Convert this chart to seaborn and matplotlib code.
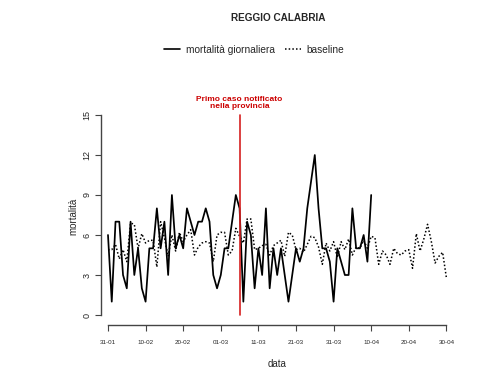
import numpy as np
import pandas as pd
import matplotlib
matplotlib.use("Agg")
import matplotlib.pyplot as plt
import matplotlib.dates as mdates
import seaborn as sns
from matplotlib.lines import Line2D

sns.set_theme(style="white")
plt.rcParams['font.family'] = ['Liberation Sans', 'DejaVu Sans']

title = "REGGIO CALABRIA"
start_date = "2020-01-31"
mortalita = [6, 1, 7, 7, 3, 2, 7, 3, 5, 2, 1, 5, 5, 8, 5, 7, 3, 9, 5, 6,
             5, 8, 7, 6, 7, 7, 8, 7, 3, 2, 3, 5, 5, 7, 9, 8, 1, 7, 6, 2,
             5, 3, 8, 2, 5, 3, 5, 3, 1, 3, 5, 4, 5, 8, 10, 12, 8, 5, 5, 4,
             1, 5, 4, 3, 3, 8, 5, 5, 6, 4, 9]
baseline = [4.9, 4.9, 5.3, 4.2, 4.9, 4.0, 6.9, 6.8, 5.0, 6.1, 5.4, 5.6, 5.6, 3.6, 7.0,
            5.8, 4.4, 6.0, 4.8, 6.2, 5.5, 6.0, 6.4, 4.5, 5.1, 5.4, 5.5, 5.4, 4.0, 6.0,
            6.2, 6.2, 4.5, 4.8, 6.5, 5.9, 5.4, 7.2, 7.2, 4.9, 5.0, 5.2, 5.3, 4.5, 5.2,
            5.4, 5.6, 4.4, 6.2, 6.0, 4.9, 5.0, 4.7, 5.3, 5.9, 5.8, 5.1, 3.8, 5.4, 4.8,
            5.5, 4.3, 5.5, 4.9, 5.7, 4.5, 5.1, 5.0, 5.6, 5.0, 5.9, 5.8, 3.8, 4.8, 4.5,
            3.8, 5.0, 4.6, 4.5, 4.8, 4.9, 3.5, 6.1, 4.8, 5.7, 6.8, 5.5, 3.9, 4.4, 4.7, 2.8]
primo_caso = "2020-03-06"
annotation = "Primo caso notificato\nnella provincia"
y_ticks = [0, 3, 6, 9, 12, 15]

dates_b = pd.date_range(start_date, periods=len(baseline), freq="D")
dates_m = dates_b[:len(mortalita)]
df_m = pd.DataFrame({"data": dates_m, "mortalita": mortalita})
df_b = pd.DataFrame({"data": dates_b, "baseline": baseline})

fig = plt.figure(figsize=(4.98, 3.77), dpi=100)
ax = fig.add_axes([101/498, (377-325)/377, (453-101)/498, (325-107)/377])

dot = (0, (1, 1.4))
sns.lineplot(data=df_m, x="data", y="mortalita", ax=ax, color="black", lw=1.25)
sns.lineplot(data=df_b, x="data", y="baseline", ax=ax, color="black", lw=1.1,
             linestyle=dot)

pc = pd.Timestamp(primo_caso)
ax.plot([pc, pc], [y_ticks[0], y_ticks[-1]], color="#d62020", lw=1.2)
ax.text(pc, 15.35, annotation, color="#cc0000", fontsize=6, fontweight="bold",
        ha="center", va="bottom", linespacing=1.1)

d0 = dates_b[0]
d1 = dates_b[-1]
ax.set_xlim(d0 - pd.Timedelta(days=1.86), d1 + pd.Timedelta(days=1.76))
ax.set_ylim(-0.75, 15.6)

xt = pd.date_range(d0, d1, freq="10D")
ax.set_xticks(xt)
ax.set_xticklabels([d.strftime("%d-%m") for d in xt], fontsize=4.5)
ax.set_yticks(y_ticks)
ax.set_yticklabels([str(v) for v in y_ticks], fontsize=6.5, rotation=90, va="center")

for s in ["top", "right"]:
    ax.spines[s].set_visible(False)
ax.spines["left"].set_bounds(y_ticks[0], y_ticks[-1])
ax.spines["bottom"].set_bounds(mdates.date2num(d0), mdates.date2num(d1))
for s in ["left", "bottom"]:
    ax.spines[s].set_color("#444444")
    ax.spines[s].set_linewidth(1.0)
ax.tick_params(axis="both", which="both", length=4, width=0.8, color="#444444",
               direction="out", bottom=True, left=True, pad=7)
ax.tick_params(axis="y", pad=3)

ax.set_xlabel("data", fontsize=7, labelpad=10)
ax.set_ylabel("mortalità", fontsize=7, labelpad=3)
ax.grid(False)

fig.text(278/498, 1 - 18/377, title, fontsize=7.2, fontweight="bold", ha="center", va="center")

handles = [Line2D([0], [0], color="black", lw=1.2),
           Line2D([0], [0], color="black", lw=1.1, linestyle=dot)]
fig.legend(handles, ["mortalità giornaliera", "baseline"], loc="center",
           bbox_to_anchor=(254/498, 1 - 50/377), ncol=2, frameon=False, fontsize=7.3,
           handlelength=1.6, columnspacing=1.0, handletextpad=0.5)

fig.savefig("out.png", dpi=100)
